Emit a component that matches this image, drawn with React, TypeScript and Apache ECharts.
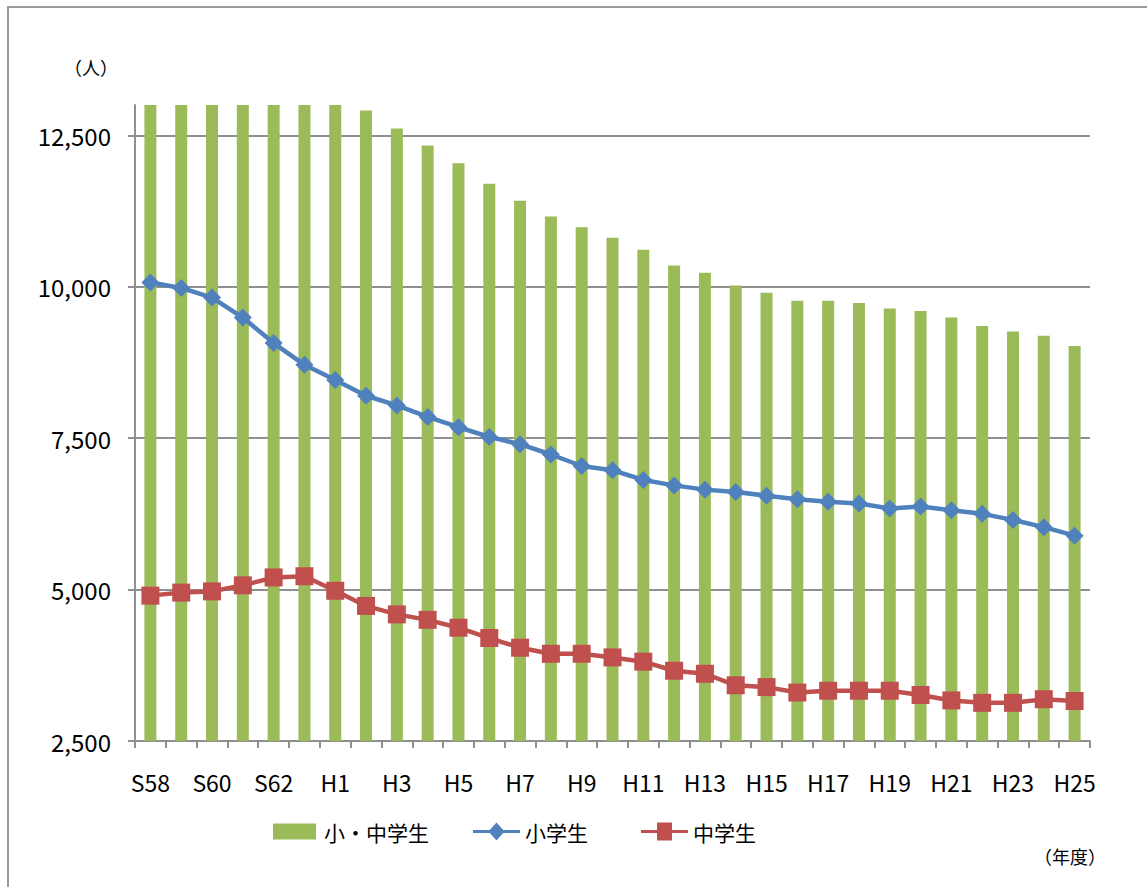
import React, { useEffect, useRef } from "react";
import * as echarts from "echarts";

const years = [
  "S58", "S59", "S60", "S61", "S62", "S63",
  "H1", "H2", "H3", "H4", "H5", "H6", "H7", "H8", "H9", "H10",
  "H11", "H12", "H13", "H14", "H15", "H16", "H17", "H18", "H19", "H20",
  "H21", "H22", "H23", "H24", "H25",
];

// 小・中学生 (bars; the first seven run above the top of the plot)
const totalStudents = [
  14970, 14930, 14790, 14550, 14270, 13920, 13440, 12910, 12610, 12330,
  12040, 11700, 11420, 11160, 10980, 10810, 10610, 10350, 10230, 10020,
  9900, 9770, 9770, 9730, 9640, 9600, 9490, 9350, 9260, 9190, 9020,
];

// 小学生
const elementaryStudents = [
  10070, 9980, 9820, 9490, 9070, 8710, 8460, 8200, 8040, 7850,
  7680, 7520, 7400, 7230, 7040, 6970, 6810, 6720, 6650, 6610,
  6550, 6490, 6450, 6420, 6340, 6370, 6310, 6250, 6150, 6030, 5890,
];

// 中学生
const juniorHighStudents = [
  4900, 4950, 4970, 5070, 5200, 5220, 4980, 4730, 4590, 4500,
  4370, 4200, 4040, 3940, 3940, 3880, 3810, 3660, 3610, 3420,
  3390, 3300, 3330, 3330, 3330, 3260, 3170, 3130, 3130, 3190, 3160,
];

const yMin = 2500;
const yMax = 13000;
const yInterval = 2500;

const seriesNames = ["小・中学生", "小学生", "中学生"];

const FONT = "'Noto Sans CJK JP', 'Open Sans', sans-serif";

// legend icons: line with a diamond / square marker in the middle
const DIAMOND_ICON =
  "path://M0,7.5 L16.8,7.5 L23.5,0 L30.2,7.5 L47,7.5 L47,10.5 L30.2,10.5 L23.5,18 L16.8,10.5 L0,10.5 Z";
const SQUARE_ICON =
  "path://M0,7.5 L16,7.5 L16,0 L31,0 L31,7.5 L47,7.5 L47,10.5 L31,10.5 L31,18 L16,18 L16,10.5 L0,10.5 Z";

export default function App() {
  const ref = useRef<HTMLDivElement>(null);

  useEffect(() => {
    if (!ref.current) return;
    const chart = echarts.init(ref.current, undefined, { renderer: "svg" });
    const gridColor = "#8f8f8f";
    const legendText = { fontSize: 21, color: "#000", fontFamily: FONT, padding: [0, 0, 0, 3] };
    const lineLegendText = { fontSize: 21, color: "#000", fontFamily: FONT };
    chart.setOption({
      animation: false,
      backgroundColor: "#ffffff",
      textStyle: { fontFamily: FONT, color: "#000" },
      grid: { left: 135, right: 57, top: 105, bottom: 146, containLabel: false },
      legend: [
        {
          left: 268,
          top: 816,
          itemWidth: 43,
          itemHeight: 16,
          textStyle: legendText,
          data: [{ name: seriesNames[0], icon: "rect" }],
        },
        {
          left: 468,
          top: 816,
          itemWidth: 47,
          itemHeight: 18,
          textStyle: lineLegendText,
          data: [{ name: seriesNames[1], icon: DIAMOND_ICON }],
        },
        {
          left: 636,
          top: 816,
          itemWidth: 47,
          itemHeight: 18,
          textStyle: lineLegendText,
          data: [{ name: seriesNames[2], icon: SQUARE_ICON }],
        },
      ],
      xAxis: {
        type: "category",
        data: years,
        boundaryGap: true,
        axisLine: { show: true, lineStyle: { color: gridColor, width: 2 } },
        axisTick: { show: true, interval: 0, length: 7, lineStyle: { color: gridColor, width: 2 } },
        axisLabel: { interval: 1, fontSize: 23, color: "#000", margin: 29, fontFamily: FONT },
        splitLine: { show: false },
      },
      yAxis: {
        type: "value",
        min: yMin,
        max: yMax,
        interval: yInterval,
        axisLine: { show: true, lineStyle: { color: gridColor, width: 2 } },
        axisTick: { show: true, length: 7, lineStyle: { color: gridColor, width: 2 } },
        axisLabel: {
          fontSize: 24,
          color: "#000",
          margin: 24,
          fontFamily: FONT,
          showMaxLabel: false,
          formatter: (v: number) => (v === yMax ? "" : v.toLocaleString("en-US")),
        },
        splitLine: {
          show: true,
          lineStyle: {
            color: [gridColor, gridColor, gridColor, gridColor, gridColor, "rgba(0,0,0,0)"],
            width: 2,
          },
        },
      },
      series: [
        {
          name: seriesNames[0],
          type: "bar",
          data: totalStudents,
          barWidth: 12,
          itemStyle: { color: "#9BBB59" },
          z: 1,
        },
        {
          name: seriesNames[1],
          type: "line",
          data: elementaryStudents,
          symbol: "diamond",
          symbolSize: 18,
          lineStyle: { color: "#4F81BD", width: 4.5 },
          itemStyle: { color: "#4F81BD" },
          z: 3,
        },
        {
          name: seriesNames[2],
          type: "line",
          data: juniorHighStudents,
          symbol: "rect",
          symbolSize: 18,
          lineStyle: { color: "#C0504D", width: 4.5 },
          itemStyle: { color: "#C0504D" },
          z: 3,
        },
      ],
      graphic: [
        {
          type: "rect",
          shape: { x: 8, y: 7, width: 1200, height: 1000 },
          style: { fill: "none", stroke: "#9a9a9a", lineWidth: 2 },
          silent: true,
          z: -1,
        },
        {
          type: "text",
          x: 64,
          y: 58,
          style: { text: "（人）", fontSize: 18, fill: "#000", fontFamily: FONT },
        },
        {
          type: "text",
          x: 1034,
          y: 847,
          style: { text: "（年度）", fontSize: 18, fill: "#000", fontFamily: FONT },
        },
      ],
    });
    return () => chart.dispose();
  }, []);

  return (
    <div
      ref={ref}
      style={{ position: "fixed", left: 0, top: 0, width: 1147, height: 887 }}
    />
  );
}
